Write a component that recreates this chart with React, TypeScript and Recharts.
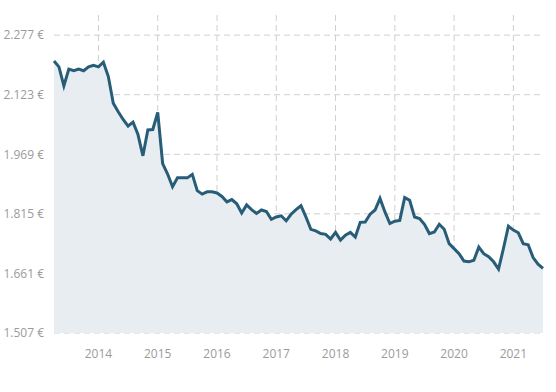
import {
  AreaChart,
  Area,
  XAxis,
  YAxis,
  CartesianGrid,
} from 'recharts';

// monthly prices, Apr 2013 – Jul 2021
const START_YEAR = 2013;
const START_MONTH = 4;

const P2013 = [2210, 2195, 2146, 2189, 2185, 2189, 2185, 2195, 2199];
const P2014 = [2195, 2207, 2170, 2101, 2079, 2059, 2042, 2052, 2020, 1965, 2032, 2033];
const P2015 = [2077, 1945, 1918, 1885, 1908, 1908, 1908, 1917, 1875, 1866, 1872, 1872];
const P2016 = [1869, 1860, 1846, 1852, 1841, 1817, 1838, 1826, 1816, 1825, 1821, 1801];
const P2017 = [1807, 1810, 1797, 1814, 1826, 1836, 1807, 1775, 1771, 1764, 1762, 1750];
const P2018 = [1767, 1747, 1760, 1767, 1755, 1793, 1794, 1814, 1825, 1855, 1820, 1790];
const P2019 = [1796, 1798, 1857, 1850, 1807, 1803, 1788, 1764, 1768, 1788, 1775, 1738];
const P2020 = [1725, 1712, 1693, 1691, 1695, 1729, 1712, 1704, 1691, 1672, 1726, 1783];
const P2021 = [1773, 1766, 1738, 1735, 1702, 1685, 1674];

const PRICES = [...P2013, ...P2014, ...P2015, ...P2016, ...P2017, ...P2018, ...P2019, ...P2020, ...P2021];

const YEAR_TICKS = ['2014-1', '2015-1', '2016-1', '2017-1', '2018-1', '2019-1', '2020-1', '2021-1'];
const Y_TICKS = [1507, 1661, 1815, 1969, 2123, 2277];

const data = PRICES.map((price, i) => {
  const n = START_MONTH - 1 + i;
  return { m: `${START_YEAR + Math.floor(n / 12)}-${(n % 12) + 1}`, price };
});

const fmtEuro = (v: number) =>
  `${Math.floor(v / 1000)}.${String(v % 1000).padStart(3, '0')} €`;

const tickStyle = { fill: '#9b9b9b', fontSize: 12, fontFamily: '"Open Sans", sans-serif' };

export default function App() {
  return (
    <div style={{ position: 'absolute', left: 0, top: 0, width: 556, height: 392, background: '#fff' }}>
      <AreaChart
        width={556}
        height={392}
        data={data}
        margin={{ top: 15, right: 13, left: 0, bottom: 29 }}
      >
        <CartesianGrid stroke="#cfcfcf" strokeDasharray="6 4" syncWithTicks />
        <XAxis
          dataKey="m"
          ticks={YEAR_TICKS}
          interval={0}
          tickFormatter={(v) => String(v).split('-')[0]}
          tick={tickStyle}
          axisLine={false}
          tickLine={false}
          tickMargin={10}
          height={30}
        />
        <YAxis
          domain={[1507, 2329]}
          ticks={Y_TICKS}
          tickFormatter={fmtEuro}
          tick={tickStyle}
          axisLine={false}
          tickLine={false}
          tickMargin={4}
          width={54}
          allowDataOverflow
        />
        <Area
          type="linear"
          dataKey="price"
          stroke="#285d78"
          strokeWidth={3}
          fill="#e8edf2"
          fillOpacity={1}
          dot={false}
          activeDot={false}
          isAnimationActive={false}
        />
      </AreaChart>
    </div>
  );
}
